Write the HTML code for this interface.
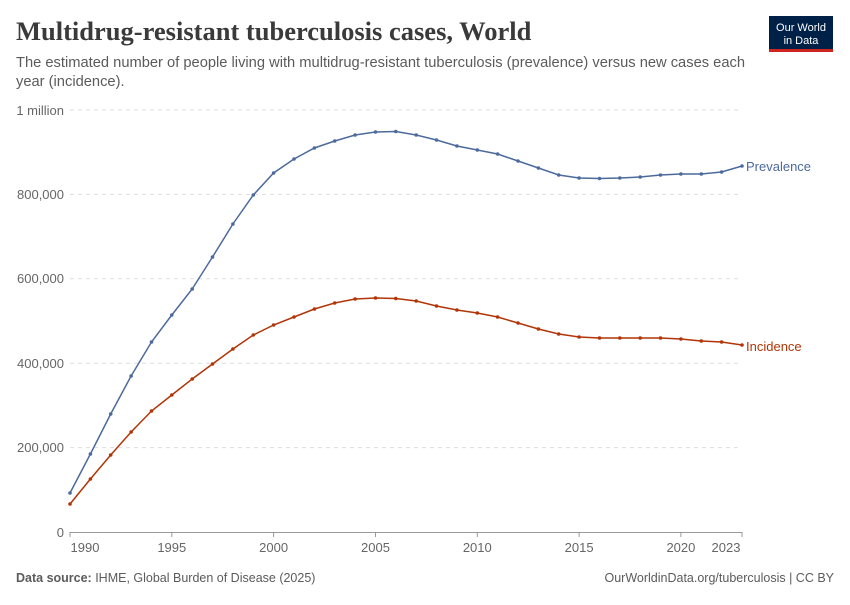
<!DOCTYPE html><html><head><meta charset="utf-8"><style>
body{margin:0;background:#fff;font-family:"Liberation Sans",sans-serif;}
</style></head><body>
<svg width="850" height="600" xmlns="http://www.w3.org/2000/svg" font-family="Liberation Sans, sans-serif">
<text x="16" y="40" font-family="Liberation Serif, serif" font-size="26.5" font-weight="bold" fill="#3a3a3a">Multidrug-resistant tuberculosis cases, World</text>
<text x="16" y="67" font-size="14.7" fill="#5b5b5b">The estimated number of people living with multidrug-resistant tuberculosis (prevalence) versus new cases each</text>
<text x="16" y="86" font-size="14.7" fill="#5b5b5b">year (incidence).</text>
<rect x="769" y="16" width="64" height="34" fill="#002147"/>
<rect x="769" y="49" width="64" height="3" fill="#ce261e"/>
<text x="801" y="31" font-size="11" fill="#fff" text-anchor="middle">Our World</text>
<text x="801" y="44" font-size="11" fill="#fff" text-anchor="middle">in Data</text>
<g stroke="#ddd" stroke-dasharray="4,4">
<line x1="70" x2="742" y1="110" y2="110"/><line x1="70" x2="742" y1="194.4" y2="194.4"/><line x1="70" x2="742" y1="278.8" y2="278.8"/><line x1="70" x2="742" y1="363.2" y2="363.2"/><line x1="70" x2="742" y1="447.6" y2="447.6"/>
</g>
<line x1="70" x2="742" y1="532.5" y2="532.5" stroke="#999"/>
<g font-size="13" fill="#666" text-anchor="end">
<text x="64" y="115">1 million</text><text x="64" y="199">800,000</text><text x="64" y="283">600,000</text><text x="64" y="368">400,000</text><text x="64" y="452">200,000</text><text x="64" y="537">0</text>
</g>
<g stroke="#999"><line x1="70" x2="70" y1="532" y2="537"/><line x1="171.8" x2="171.8" y1="532" y2="537"/><line x1="273.6" x2="273.6" y1="532" y2="537"/><line x1="375.5" x2="375.5" y1="532" y2="537"/><line x1="477.3" x2="477.3" y1="532" y2="537"/><line x1="579.1" x2="579.1" y1="532" y2="537"/><line x1="680.9" x2="680.9" y1="532" y2="537"/><line x1="742" x2="742" y1="532" y2="537"/></g>
<g font-size="13" fill="#666" text-anchor="middle">
<text x="85" y="552">1990</text><text x="171.8" y="552">1995</text><text x="273.6" y="552">2000</text><text x="375.5" y="552">2005</text><text x="477.3" y="552">2010</text><text x="579.1" y="552">2015</text><text x="680.9" y="552">2020</text><text x="726" y="552">2023</text>
</g>
<g id="s"></g>
<text x="746" y="171" font-size="13" fill="#4c6a9c">Prevalence</text>
<text x="746" y="351" font-size="13" fill="#b13507">Incidence</text>
<text x="16" y="582" font-size="12.5" fill="#5b5b5b"><tspan font-weight="bold">Data source:</tspan> IHME, Global Burden of Disease (2025)</text>
<text x="834" y="582" font-size="12.5" fill="#5b5b5b" text-anchor="end">OurWorldinData.org/tuberculosis | CC BY</text>
</svg>
<script>
var p=[493,454,414,376,342,315,289,257,224,195,173,159,148,141,135,132,131.5,135,140,146,150,154,161,168,175,178,178.5,178,177,175,174,174,172,166];
var q=[504,479,455,432,411,395,379,364,349,335,325,317,309,303,299,298,298.5,301,306,310,313,317,323,329,334,337,338,338,338,338,339,341,342,345];
var g=document.getElementById('s'),h='';
[[p,'#4c6a9c'],[q,'#b13507']].forEach(function(a){var d='';a[0].forEach(function(y,i){var x=70+i*672/33;d+=(i?'L':'M')+x.toFixed(1)+','+y;h+='<circle cx="'+x.toFixed(1)+'" cy="'+y+'" r="1.8" fill="'+a[1]+'"/>';});h='<path d="'+d+'" fill="none" stroke="'+a[1]+'" stroke-width="1.5"/>'+h;});
g.innerHTML=h;
</script>
</body></html>
